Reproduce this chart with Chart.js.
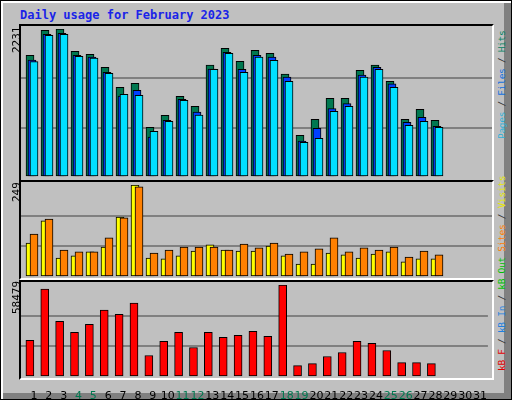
<!DOCTYPE html>
<html>
<head>
<meta charset="utf-8">
<script src="https://cdn.jsdelivr.net/npm/chart.js@4"></script>
<style>
  body { margin: 0; }
  #wrap { position: relative; width: 512px; height: 400px; background: #c0c0c0; box-sizing: border-box;
    border: 1px solid #000; box-shadow: inset 2px 2px 0 #fff, inset -7px -6px 0 #808080; overflow: hidden; }
  .frame { position: absolute; box-sizing: border-box; border: 2px solid; border-color: #000 #fff #fff #000; }
  canvas { position: absolute; }
  .lab { position: absolute; transform-origin: 0 0; transform: rotate(-90deg); white-space: nowrap;
    font: 11px "DejaVu Sans Mono", monospace; line-height: 12px; }
  .rlab { font-size: 9.5px; letter-spacing: -0.3px; }
  #title { position: absolute; left: 19px; top: 7px; font: bold 12px "DejaVu Sans Mono", monospace; color: #1a24e8; }
</style>
</head>
<body>
<div id="wrap">
  <div id="title">Daily usage for February 2023</div>
  <div class="frame" style="left:18px;top:23px;width:475px;height:158px"></div>
  <div class="frame" style="left:18px;top:179px;width:475px;height:100px"></div>
  <div class="frame" style="left:18px;top:279px;width:475px;height:100px"></div>
  <canvas id="c1" width="471" height="148" style="left:20px;top:28px"></canvas>
  <canvas id="c2" width="471" height="92" style="left:20px;top:184px"></canvas>
  <canvas id="c3" width="471" height="115" style="left:20px;top:284px"></canvas>
  <div class="lab" style="left:10px;top:52px">2231</div>
  <div class="lab" style="left:10px;top:201px">249</div>
  <div class="lab" style="left:10px;top:313px">58479</div>
  <div class="lab rlab" style="left:495px;top:138px"><span style="color:#30b0d8">Pages</span> <span style="color:#303030">/</span> <span style="color:#1070e0">Files</span> <span style="color:#303030">/</span> <span style="color:#008060">Hits</span></div>
  <div class="lab rlab" style="left:495px;top:370px"><span style="color:#e00000">kB F</span> <span style="color:#303030">/</span> <span style="color:#2080e0">kB In</span> <span style="color:#303030">/</span> <span style="color:#00c000">kB Out</span> <span style="color:#ff8000">Sites</span> <span style="color:#303030">/</span> <span style="color:#e8e800">Visits</span></div>
</div>
<script>
const days = Array.from({ length: 31 }, (_, i) => i + 1);
const weekendDays = [4, 5, 11, 12, 18, 19, 25, 26];

const hits = [1834, 2211, 2231, 1894, 1849, 1653, 1352, 1412, 749, 929, 1216, 1066, 1688, 1939,
  1743, 1909, 1865, 1552, 628, 870, 1186, 1186, 1609, 1688, 1442, 870, 1020, 855];
const files = [1764, 2151, 2166, 1834, 1808, 1578, 1221, 1307, 603, 855, 1171, 979, 1628, 1879,
  1623, 1834, 1808, 1508, 543, 734, 1030, 1106, 1538, 1653, 1403, 825, 900, 765];
const pages = [1739, 2136, 2151, 1819, 1793, 1563, 1246, 1231, 689, 839, 1156, 935, 1623, 1865,
  1578, 1808, 1758, 1442, 522, 583, 990, 1066, 1508, 1623, 1352, 779, 839, 749];
const visits = [92, 152, 51, 57, 68, 81, 162, 249, 51, 49, 57, 70, 87, 73,
  70, 70, 84, 57, 35, 35, 65, 60, 51, 62, 68, 41, 49, 49];
const sites = [116, 157, 73, 68, 68, 106, 160, 244, 65, 73, 81, 81, 81, 73,
  89, 79, 92, 62, 68, 76, 106, 68, 79, 73, 81, 54, 70, 60];
const kbytes = [23260, 55910, 35420, 28380, 33500, 42470, 39910, 46950, 13660, 22620, 28380, 18780, 28380, 25180,
  26460, 29020, 25820, 58479, 7256, 8536, 13020, 15580, 22620, 21340, 16860, 9176, 9176, 8536];

const maxHits = 2231, maxVisits = 249, maxKb = 58479;

const pts = (vals) => vals.map((v, i) => ({ x: days[i], y: v }));

// shift each dataset sideways by a few pixels, like the webalizer 3d-ish bars
const shiftPlugin = {
  id: "shift",
  beforeDatasetDraw(chart, args) {
    chart.ctx.save();
    chart.ctx.translate(chart.data.datasets[args.index].shift || 0, 0);
  },
  afterDatasetDraw(chart) {
    chart.ctx.restore();
  },
};

const bar = (vals, color, shift) => ({
  data: pts(vals), backgroundColor: color, borderColor: "#000", borderWidth: 1,
  barThickness: 8, shift, borderSkipped: false, grouped: false,
});

const makeChart = (id, datasets, max, showX) => {
  new Chart(document.getElementById(id), {
    type: "bar",
    data: { datasets },
    options: {
      responsive: false, animation: false,
      layout: { padding: 0 },
      plugins: { legend: { display: false }, tooltip: { enabled: false } },
      scales: {
        x: {
          type: "linear", min: 0.133, max: 31.533, offset: false,
          display: showX,
          afterBuildTicks: (s) => { s.ticks = days.map((d) => ({ value: d })); },
          afterFit: (s) => { s.height = showX ? 23 : 0; },
          grid: { display: false },
          border: { display: false },
          ticks: {
            autoSkip: false, maxRotation: 0, padding: 5,
            font: { family: "DejaVu Sans", size: 11 },
            color: (c) => (weekendDays.includes(c.tick.value) ? "#007850" : "#000"),
          },
        },
        y: {
          min: 0, max,
          afterBuildTicks: (s) => { s.ticks = [0, max / 3, (2 * max) / 3, max].map((v) => ({ value: v })); },
          afterFit: (s) => { s.width = 0; },
          ticks: { display: false },
          border: { display: false },
          grid: {
            drawTicks: false, lineWidth: 2,
            color: (c) => (c.tick.value > 0 && c.tick.value < max ? "#808080" : "rgba(0,0,0,0)"),
          },
        },
      },
    },
    plugins: [shiftPlugin],
  });
};

makeChart("c1", [
  bar(pages, "#00e0ff", 0),
  bar(files, "#0040ff", -2),
  bar(hits, "#007850", -4),
], maxHits, false);

makeChart("c2", [
  bar(sites, "#ff8000", 0),
  bar(visits, "#ffff00", -4),
], maxVisits, false);

makeChart("c3", [
  bar(kbytes, "#ff0000", -4),
], maxKb, true);
</script>
</body>
</html>
